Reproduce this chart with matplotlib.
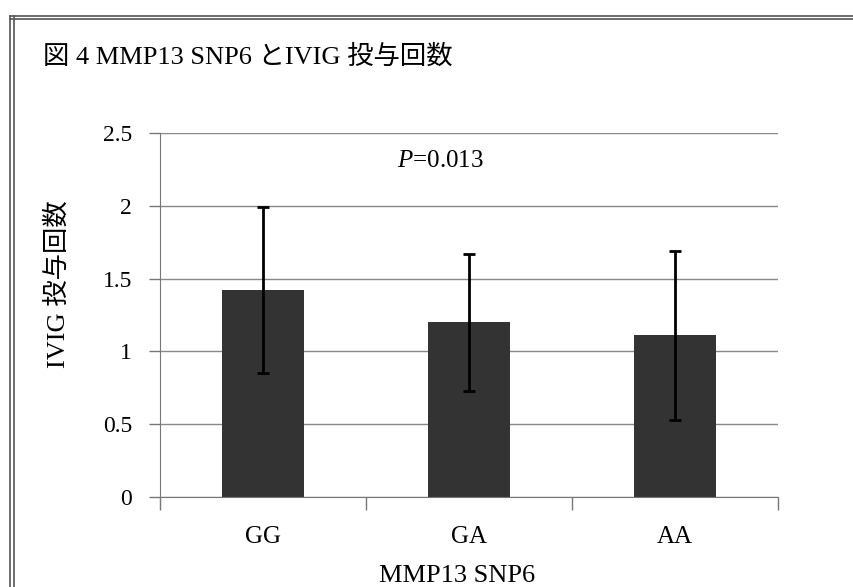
import numpy as np
import matplotlib
matplotlib.use('Agg')
import matplotlib.pyplot as plt
from matplotlib.lines import Line2D

plt.rcParams['font.family'] = ['Liberation Serif', 'Noto Sans CJK JP']
plt.rcParams['mathtext.fontset'] = 'custom'
plt.rcParams['mathtext.it'] = 'Liberation Serif:italic'
plt.rcParams['mathtext.rm'] = 'Liberation Serif'

## Data
genotypes = ['GG', 'GA', 'AA']
means = [1.42, 1.20, 1.11]
sds = [0.57, 0.47, 0.58]
y_ticks = [0, 0.5, 1, 1.5, 2, 2.5]
y_tick_labels = ['0', '0.5', '1', '1.5', '2', '2.5']

W, H = 854, 587
fig = plt.figure(figsize=(W / 100, H / 100), dpi=100)
ax = fig.add_axes([160 / W, 1 - 497 / H, (778 - 160) / W, (497 - 133) / H])

x = np.arange(len(genotypes))
ax.bar(x, means, width=0.40, color='#333333', zorder=2)
ax.errorbar(x, means, yerr=sds, fmt='none', ecolor='black', elinewidth=2.0,
            capsize=4.5, capthick=2.0, zorder=3)

ax.set_xlim(-0.5, 2.5)
ax.set_ylim(0, 2.5)
ax.set_yticks(y_ticks)
ax.set_yticklabels(y_tick_labels, fontsize=17)
# category borders as major ticks, labels on minor ticks
ax.set_xticks([-0.5, 0.5, 1.5, 2.5])
ax.set_xticklabels([])
ax.set_xticks(x, minor=True)
ax.set_xticklabels(genotypes, minor=True, fontsize=18)
ax.tick_params(axis='x', which='minor', length=0, pad=21)
ax.tick_params(axis='x', which='major', length=9, color='#777777', width=1)
ax.tick_params(axis='y', length=8, color='#777777', width=1, pad=12)
ax.yaxis.grid(True, color='#888888', linewidth=1, zorder=0)
ax.set_axisbelow(True)
for side in ['top', 'right']:
    ax.spines[side].set_visible(False)
for side in ['left', 'bottom']:
    ax.spines[side].set_color('#777777')

fig.text(457 / W, 1 - 576 / H, 'MMP13 SNP6', fontsize=19, ha='center', va='center')
fig.text(58 / W, 1 - 284 / H, 'IVIG 投与回数', fontsize=19, ha='center', va='center',
         rotation=90)
ax.text(0.86, 2.31, r'$P$=0.013', fontsize=18, ha='center', va='center')

fig.text(43 / W, 1 - 57 / H, '図 4 MMP13 SNP6 とIVIG 投与回数', fontsize=19,
         ha='left', va='center')

# outer frame (double line)
for xx in [10 / W, 14 / W]:
    fig.add_artist(Line2D([xx, xx], [0, 1 - 16 / H], color='#555555', lw=1.2))
for yy in [1 - 16 / H, 1 - 19 / H]:
    fig.add_artist(Line2D([10 / W, 1], [yy, yy], color='#555555', lw=1.2))

fig.savefig('out.png', dpi=100)
